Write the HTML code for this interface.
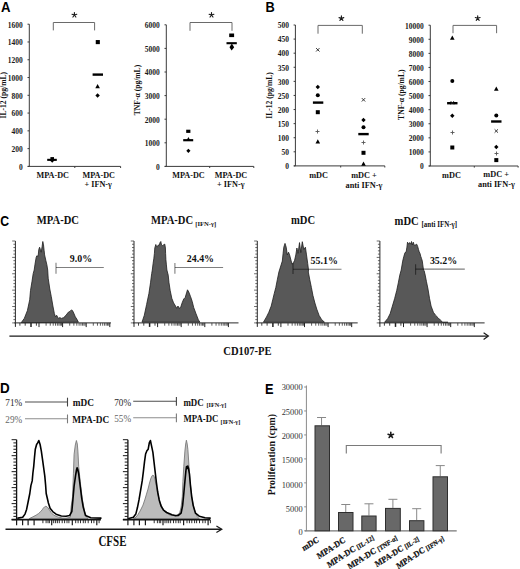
<!DOCTYPE html>
<html><head><meta charset="utf-8"><style>
html,body{margin:0;padding:0;background:#fff;width:520px;height:569px;overflow:hidden}
svg{display:block}
</style></head><body>
<svg width="520" height="569" viewBox="0 0 520 569">
<rect width="520" height="569" fill="#fff"/>
<text x="0" y="0" font-size="13.2" text-anchor="start" font-weight="bold" font-family='"Liberation Sans", sans-serif' fill="#000" transform="translate(1.0,11.8) scale(1,1.1)">A</text>
<line x1="29.3" y1="24.2" x2="29.3" y2="166.4" stroke="#3a3a3a" stroke-width="1" />
<line x1="27.8" y1="166.4" x2="120.6" y2="166.4" stroke="#3a3a3a" stroke-width="1" />
<line x1="27.5" y1="24.2" x2="29.3" y2="24.2" stroke="#3a3a3a" stroke-width="1" />
<text x="0" y="0" font-size="7.5" text-anchor="end" font-weight="bold" font-family='"Liberation Serif", serif' fill="#1a1a1a" transform="translate(22.8,27.5) scale(1,1.08)" >1600</text>
<line x1="27.5" y1="41.975" x2="29.3" y2="41.975" stroke="#3a3a3a" stroke-width="1" />
<text x="0" y="0" font-size="7.5" text-anchor="end" font-weight="bold" font-family='"Liberation Serif", serif' fill="#1a1a1a" transform="translate(22.8,45.275) scale(1,1.08)" >1400</text>
<line x1="27.5" y1="59.75" x2="29.3" y2="59.75" stroke="#3a3a3a" stroke-width="1" />
<text x="0" y="0" font-size="7.5" text-anchor="end" font-weight="bold" font-family='"Liberation Serif", serif' fill="#1a1a1a" transform="translate(22.8,63.05) scale(1,1.08)" >1200</text>
<line x1="27.5" y1="77.525" x2="29.3" y2="77.525" stroke="#3a3a3a" stroke-width="1" />
<text x="0" y="0" font-size="7.5" text-anchor="end" font-weight="bold" font-family='"Liberation Serif", serif' fill="#1a1a1a" transform="translate(22.8,80.825) scale(1,1.08)" >1000</text>
<line x1="27.5" y1="95.30000000000001" x2="29.3" y2="95.30000000000001" stroke="#3a3a3a" stroke-width="1" />
<text x="0" y="0" font-size="7.5" text-anchor="end" font-weight="bold" font-family='"Liberation Serif", serif' fill="#1a1a1a" transform="translate(22.8,98.60000000000001) scale(1,1.08)" >800</text>
<line x1="27.5" y1="113.07500000000002" x2="29.3" y2="113.07500000000002" stroke="#3a3a3a" stroke-width="1" />
<text x="0" y="0" font-size="7.5" text-anchor="end" font-weight="bold" font-family='"Liberation Serif", serif' fill="#1a1a1a" transform="translate(22.8,116.37500000000001) scale(1,1.08)" >600</text>
<line x1="27.5" y1="130.85" x2="29.3" y2="130.85" stroke="#3a3a3a" stroke-width="1" />
<text x="0" y="0" font-size="7.5" text-anchor="end" font-weight="bold" font-family='"Liberation Serif", serif' fill="#1a1a1a" transform="translate(22.8,134.15) scale(1,1.08)" >400</text>
<line x1="27.5" y1="148.625" x2="29.3" y2="148.625" stroke="#3a3a3a" stroke-width="1" />
<text x="0" y="0" font-size="7.5" text-anchor="end" font-weight="bold" font-family='"Liberation Serif", serif' fill="#1a1a1a" transform="translate(22.8,151.925) scale(1,1.08)" >200</text>
<line x1="27.5" y1="166.4" x2="29.3" y2="166.4" stroke="#3a3a3a" stroke-width="1" />
<text x="0" y="0" font-size="7.5" text-anchor="end" font-weight="bold" font-family='"Liberation Serif", serif' fill="#1a1a1a" transform="translate(22.8,169.70000000000002) scale(1,1.08)" >0</text>
<line x1="74.8" y1="166.4" x2="74.8" y2="168.0" stroke="#3a3a3a" stroke-width="1" />
<line x1="120.6" y1="166.4" x2="120.6" y2="168.0" stroke="#3a3a3a" stroke-width="1" />
<text x="0" y="0" font-size="7.6" text-anchor="middle" font-weight="bold" font-family='"Liberation Serif", serif' fill="#111" transform="translate(6.2,95.2) rotate(-90)">IL-12 (pg/mL)</text>
<text x="0" y="0" font-size="8.2" text-anchor="middle" font-weight="bold" font-family='"Liberation Serif", serif' fill="#111" transform="translate(52.7,177.5) scale(1,1.08)" >MPA-DC</text>
<text x="0" y="0" font-size="8.2" text-anchor="middle" font-weight="bold" font-family='"Liberation Serif", serif' fill="#111" transform="translate(98.7,177.5) scale(1,1.08)" >MPA-DC</text>
<text x="0" y="0" font-size="8.2" text-anchor="middle" font-weight="bold" font-family='"Liberation Serif", serif' fill="#111" transform="translate(98.2,187.2) scale(1,1.08)" >+ IFN-γ</text>
<path d="M53.3,30.4 L53.3,22.5 L94.6,22.5 L94.6,30.4" fill="none" stroke="#6a6a6a" stroke-width="1" />
<path d="M74.40,15.00 L74.40,12.50 M74.40,15.00 L76.78,14.23 M74.40,15.00 L75.87,17.02 M74.40,15.00 L72.93,17.02 M74.40,15.00 L72.02,14.23 " fill="none" stroke="#1a1a1a" stroke-width="1.15" stroke-linecap="round"/>
<rect x="95.75" y="40.05" width="4.1" height="4.1" fill="#000"/>
<line x1="92.6" y1="74.6" x2="103.0" y2="74.6" stroke="#000" stroke-width="2.4" />
<path d="M97.6,84.0 L99.89999999999999,88.255 L95.3,88.255 Z" fill="#000"/>
<path d="M97.6,93.3 L99.8,95.5 L97.6,97.7 L95.39999999999999,95.5 Z" fill="#000"/>
<rect x="47.2" y="158.8" width="9.6" height="2.1" fill="#000"/>
<rect x="50.40" y="157.10" width="3.6" height="3.6" fill="#000"/>
<path d="M52.2,157.9 L54.6,160.3 L52.2,162.70000000000002 L49.800000000000004,160.3 Z" fill="#000"/>
<line x1="166.3" y1="24.8" x2="166.3" y2="166.4" stroke="#3a3a3a" stroke-width="1" />
<line x1="164.8" y1="166.4" x2="253.8" y2="166.4" stroke="#3a3a3a" stroke-width="1" />
<line x1="164.5" y1="24.8" x2="166.3" y2="24.8" stroke="#3a3a3a" stroke-width="1" />
<text x="0" y="0" font-size="7.5" text-anchor="end" font-weight="bold" font-family='"Liberation Serif", serif' fill="#1a1a1a" transform="translate(159.8,28.1) scale(1,1.08)" >6000</text>
<line x1="164.5" y1="48.4" x2="166.3" y2="48.4" stroke="#3a3a3a" stroke-width="1" />
<text x="0" y="0" font-size="7.5" text-anchor="end" font-weight="bold" font-family='"Liberation Serif", serif' fill="#1a1a1a" transform="translate(159.8,51.699999999999996) scale(1,1.08)" >5000</text>
<line x1="164.5" y1="72.0" x2="166.3" y2="72.0" stroke="#3a3a3a" stroke-width="1" />
<text x="0" y="0" font-size="7.5" text-anchor="end" font-weight="bold" font-family='"Liberation Serif", serif' fill="#1a1a1a" transform="translate(159.8,75.3) scale(1,1.08)" >4000</text>
<line x1="164.5" y1="95.6" x2="166.3" y2="95.6" stroke="#3a3a3a" stroke-width="1" />
<text x="0" y="0" font-size="7.5" text-anchor="end" font-weight="bold" font-family='"Liberation Serif", serif' fill="#1a1a1a" transform="translate(159.8,98.89999999999999) scale(1,1.08)" >3000</text>
<line x1="164.5" y1="119.19999999999999" x2="166.3" y2="119.19999999999999" stroke="#3a3a3a" stroke-width="1" />
<text x="0" y="0" font-size="7.5" text-anchor="end" font-weight="bold" font-family='"Liberation Serif", serif' fill="#1a1a1a" transform="translate(159.8,122.49999999999999) scale(1,1.08)" >2000</text>
<line x1="164.5" y1="142.79999999999998" x2="166.3" y2="142.79999999999998" stroke="#3a3a3a" stroke-width="1" />
<text x="0" y="0" font-size="7.5" text-anchor="end" font-weight="bold" font-family='"Liberation Serif", serif' fill="#1a1a1a" transform="translate(159.8,146.1) scale(1,1.08)" >1000</text>
<line x1="164.5" y1="166.4" x2="166.3" y2="166.4" stroke="#3a3a3a" stroke-width="1" />
<text x="0" y="0" font-size="7.5" text-anchor="end" font-weight="bold" font-family='"Liberation Serif", serif' fill="#1a1a1a" transform="translate(159.8,169.70000000000002) scale(1,1.08)" >0</text>
<line x1="209.7" y1="166.4" x2="209.7" y2="168.0" stroke="#3a3a3a" stroke-width="1" />
<line x1="253.8" y1="166.4" x2="253.8" y2="168.0" stroke="#3a3a3a" stroke-width="1" />
<text x="0" y="0" font-size="7.6" text-anchor="middle" font-weight="bold" font-family='"Liberation Serif", serif' fill="#111" transform="translate(139.6,90) rotate(-90)">TNF-α (pg/mL)</text>
<text x="0" y="0" font-size="8.2" text-anchor="middle" font-weight="bold" font-family='"Liberation Serif", serif' fill="#111" transform="translate(188.5,177.5) scale(1,1.08)" >MPA-DC</text>
<text x="0" y="0" font-size="8.2" text-anchor="middle" font-weight="bold" font-family='"Liberation Serif", serif' fill="#111" transform="translate(231,177.5) scale(1,1.08)" >MPA-DC</text>
<text x="0" y="0" font-size="8.2" text-anchor="middle" font-weight="bold" font-family='"Liberation Serif", serif' fill="#111" transform="translate(230.8,187.2) scale(1,1.08)" >+ IFN-γ</text>
<path d="M190,30.8 L190,22.5 L232,22.5 L232,30.8" fill="none" stroke="#6a6a6a" stroke-width="1" />
<path d="M211.50,15.00 L211.50,12.50 M211.50,15.00 L213.88,14.23 M211.50,15.00 L212.97,17.02 M211.50,15.00 L210.03,17.02 M211.50,15.00 L209.12,14.23 " fill="none" stroke="#1a1a1a" stroke-width="1.15" stroke-linecap="round"/>
<rect x="186.2" y="129.7" width="4.2" height="3.2" fill="#000"/>
<path d="M188.4,137.0 L190.3,140.51500000000001 L186.5,140.51500000000001 Z" fill="#000"/>
<line x1="183.2" y1="140.2" x2="193.2" y2="140.2" stroke="#000" stroke-width="2.2" />
<path d="M188.4,148.70000000000002 L190.5,150.8 L188.4,152.9 L186.3,150.8 Z" fill="#000"/>
<rect x="229.2" y="33.5" width="4.9" height="3.6" fill="#000"/>
<line x1="226.5" y1="43.2" x2="236.8" y2="43.2" stroke="#000" stroke-width="2.1" />
<path d="M231.8,43.4 L234.2,47.2 L231.6,50.6 L229.5,47.2 Z" fill="#000"/>
<text x="0" y="0" font-size="12.8" text-anchor="start" font-weight="bold" font-family='"Liberation Sans", sans-serif' fill="#000" transform="translate(265.5,11.8) scale(1,1.13)">B</text>
<line x1="295.4" y1="25.0" x2="295.4" y2="165.9" stroke="#3a3a3a" stroke-width="1" />
<line x1="293.9" y1="165.9" x2="384.8" y2="165.9" stroke="#3a3a3a" stroke-width="1" />
<line x1="293.59999999999997" y1="25.0" x2="295.4" y2="25.0" stroke="#3a3a3a" stroke-width="1" />
<text x="0" y="0" font-size="7.5" text-anchor="end" font-weight="bold" font-family='"Liberation Serif", serif' fill="#1a1a1a" transform="translate(288.9,28.3) scale(1,1.08)" >500</text>
<line x1="293.59999999999997" y1="39.09" x2="295.4" y2="39.09" stroke="#3a3a3a" stroke-width="1" />
<text x="0" y="0" font-size="7.5" text-anchor="end" font-weight="bold" font-family='"Liberation Serif", serif' fill="#1a1a1a" transform="translate(288.9,42.39) scale(1,1.08)" >450</text>
<line x1="293.59999999999997" y1="53.18" x2="295.4" y2="53.18" stroke="#3a3a3a" stroke-width="1" />
<text x="0" y="0" font-size="7.5" text-anchor="end" font-weight="bold" font-family='"Liberation Serif", serif' fill="#1a1a1a" transform="translate(288.9,56.48) scale(1,1.08)" >400</text>
<line x1="293.59999999999997" y1="67.27" x2="295.4" y2="67.27" stroke="#3a3a3a" stroke-width="1" />
<text x="0" y="0" font-size="7.5" text-anchor="end" font-weight="bold" font-family='"Liberation Serif", serif' fill="#1a1a1a" transform="translate(288.9,70.57) scale(1,1.08)" >350</text>
<line x1="293.59999999999997" y1="81.36" x2="295.4" y2="81.36" stroke="#3a3a3a" stroke-width="1" />
<text x="0" y="0" font-size="7.5" text-anchor="end" font-weight="bold" font-family='"Liberation Serif", serif' fill="#1a1a1a" transform="translate(288.9,84.66) scale(1,1.08)" >300</text>
<line x1="293.59999999999997" y1="95.45" x2="295.4" y2="95.45" stroke="#3a3a3a" stroke-width="1" />
<text x="0" y="0" font-size="7.5" text-anchor="end" font-weight="bold" font-family='"Liberation Serif", serif' fill="#1a1a1a" transform="translate(288.9,98.75) scale(1,1.08)" >250</text>
<line x1="293.59999999999997" y1="109.53999999999999" x2="295.4" y2="109.53999999999999" stroke="#3a3a3a" stroke-width="1" />
<text x="0" y="0" font-size="7.5" text-anchor="end" font-weight="bold" font-family='"Liberation Serif", serif' fill="#1a1a1a" transform="translate(288.9,112.83999999999999) scale(1,1.08)" >200</text>
<line x1="293.59999999999997" y1="123.63" x2="295.4" y2="123.63" stroke="#3a3a3a" stroke-width="1" />
<text x="0" y="0" font-size="7.5" text-anchor="end" font-weight="bold" font-family='"Liberation Serif", serif' fill="#1a1a1a" transform="translate(288.9,126.92999999999999) scale(1,1.08)" >150</text>
<line x1="293.59999999999997" y1="137.72" x2="295.4" y2="137.72" stroke="#3a3a3a" stroke-width="1" />
<text x="0" y="0" font-size="7.5" text-anchor="end" font-weight="bold" font-family='"Liberation Serif", serif' fill="#1a1a1a" transform="translate(288.9,141.02) scale(1,1.08)" >100</text>
<line x1="293.59999999999997" y1="151.81" x2="295.4" y2="151.81" stroke="#3a3a3a" stroke-width="1" />
<text x="0" y="0" font-size="7.5" text-anchor="end" font-weight="bold" font-family='"Liberation Serif", serif' fill="#1a1a1a" transform="translate(288.9,155.11) scale(1,1.08)" >50</text>
<line x1="293.59999999999997" y1="165.9" x2="295.4" y2="165.9" stroke="#3a3a3a" stroke-width="1" />
<text x="0" y="0" font-size="7.5" text-anchor="end" font-weight="bold" font-family='"Liberation Serif", serif' fill="#1a1a1a" transform="translate(288.9,169.20000000000002) scale(1,1.08)" >0</text>
<line x1="340.7" y1="165.9" x2="340.7" y2="167.5" stroke="#3a3a3a" stroke-width="1" />
<line x1="384.8" y1="165.9" x2="384.8" y2="167.5" stroke="#3a3a3a" stroke-width="1" />
<text x="0" y="0" font-size="7.6" text-anchor="middle" font-weight="bold" font-family='"Liberation Serif", serif' fill="#111" transform="translate(272,95.5) rotate(-90)">IL-12 (pg/mL)</text>
<text x="0" y="0" font-size="8.3" text-anchor="middle" font-weight="bold" font-family='"Liberation Serif", serif' fill="#111" transform="translate(318.6,177.6) scale(1,1.08)" >mDC</text>
<text x="0" y="0" font-size="8.3" text-anchor="middle" font-weight="bold" font-family='"Liberation Serif", serif' fill="#111" transform="translate(364,177.6) scale(1,1.08)" >mDC +</text>
<text x="0" y="0" font-size="8.3" text-anchor="middle" font-weight="bold" font-family='"Liberation Serif", serif' fill="#111" transform="translate(364,188) scale(1,1.08)" >anti IFN-γ</text>
<path d="M318,33.7 L318,25.4 L362.3,25.4 L362.3,33.7" fill="none" stroke="#6a6a6a" stroke-width="1" />
<path d="M341.40,18.40 L341.40,15.90 M341.40,18.40 L343.78,17.63 M341.40,18.40 L342.87,20.42 M341.40,18.40 L339.93,20.42 M341.40,18.40 L339.02,17.63 " fill="none" stroke="#1a1a1a" stroke-width="1.15" stroke-linecap="round"/>
<path d="M316.1,48.099999999999994 L319.5,51.5 M319.5,48.099999999999994 L316.1,51.5" stroke="#222" stroke-width="0.9"/>
<path d="M317.8,84.8 L320.0,87 L317.8,89.2 L315.6,87 Z" fill="#000"/>
<circle cx="317.8" cy="95.3" r="2.0" fill="#000"/>
<line x1="312.90000000000003" y1="102.6" x2="323.3" y2="102.6" stroke="#000" stroke-width="2.4" />
<rect x="315.80" y="110.20" width="4.0" height="4.0" fill="#000"/>
<path d="M315.5,131.5 L319.5,131.5 M317.5,129.5 L317.5,133.5" stroke="#555" stroke-width="0.9"/>
<path d="M317.8,139.29999999999998 L320.1,143.555 L315.5,143.555 Z" fill="#000"/>
<path d="M361.8,98.1 L365.2,101.5 M365.2,98.1 L361.8,101.5" stroke="#222" stroke-width="0.9"/>
<path d="M363.5,117.8 L365.7,120 L363.5,122.2 L361.3,120 Z" fill="#000"/>
<circle cx="363.5" cy="127.3" r="2.0" fill="#000"/>
<line x1="358.3" y1="134.1" x2="368.7" y2="134.1" stroke="#000" stroke-width="2.4" />
<path d="M361.5,142.5 L365.5,142.5 M363.5,140.5 L363.5,144.5" stroke="#555" stroke-width="0.9"/>
<rect x="361.50" y="150.80" width="4.0" height="4.0" fill="#000"/>
<path d="M363.5,161.6 L365.8,165.85500000000002 L361.2,165.85500000000002 Z" fill="#000"/>
<line x1="430.3" y1="25.2" x2="430.3" y2="166.0" stroke="#3a3a3a" stroke-width="1" />
<line x1="428.8" y1="166.0" x2="518.1" y2="166.0" stroke="#3a3a3a" stroke-width="1" />
<line x1="428.5" y1="25.2" x2="430.3" y2="25.2" stroke="#3a3a3a" stroke-width="1" />
<text x="0" y="0" font-size="7.5" text-anchor="end" font-weight="bold" font-family='"Liberation Serif", serif' fill="#1a1a1a" transform="translate(423.8,28.5) scale(1,1.08)" >10000</text>
<line x1="428.5" y1="39.28" x2="430.3" y2="39.28" stroke="#3a3a3a" stroke-width="1" />
<text x="0" y="0" font-size="7.5" text-anchor="end" font-weight="bold" font-family='"Liberation Serif", serif' fill="#1a1a1a" transform="translate(423.8,42.58) scale(1,1.08)" >9000</text>
<line x1="428.5" y1="53.36" x2="430.3" y2="53.36" stroke="#3a3a3a" stroke-width="1" />
<text x="0" y="0" font-size="7.5" text-anchor="end" font-weight="bold" font-family='"Liberation Serif", serif' fill="#1a1a1a" transform="translate(423.8,56.66) scale(1,1.08)" >8000</text>
<line x1="428.5" y1="67.44000000000001" x2="430.3" y2="67.44000000000001" stroke="#3a3a3a" stroke-width="1" />
<text x="0" y="0" font-size="7.5" text-anchor="end" font-weight="bold" font-family='"Liberation Serif", serif' fill="#1a1a1a" transform="translate(423.8,70.74000000000001) scale(1,1.08)" >7000</text>
<line x1="428.5" y1="81.52000000000001" x2="430.3" y2="81.52000000000001" stroke="#3a3a3a" stroke-width="1" />
<text x="0" y="0" font-size="7.5" text-anchor="end" font-weight="bold" font-family='"Liberation Serif", serif' fill="#1a1a1a" transform="translate(423.8,84.82000000000001) scale(1,1.08)" >6000</text>
<line x1="428.5" y1="95.60000000000001" x2="430.3" y2="95.60000000000001" stroke="#3a3a3a" stroke-width="1" />
<text x="0" y="0" font-size="7.5" text-anchor="end" font-weight="bold" font-family='"Liberation Serif", serif' fill="#1a1a1a" transform="translate(423.8,98.9) scale(1,1.08)" >5000</text>
<line x1="428.5" y1="109.68000000000002" x2="430.3" y2="109.68000000000002" stroke="#3a3a3a" stroke-width="1" />
<text x="0" y="0" font-size="7.5" text-anchor="end" font-weight="bold" font-family='"Liberation Serif", serif' fill="#1a1a1a" transform="translate(423.8,112.98000000000002) scale(1,1.08)" >4000</text>
<line x1="428.5" y1="123.76000000000002" x2="430.3" y2="123.76000000000002" stroke="#3a3a3a" stroke-width="1" />
<text x="0" y="0" font-size="7.5" text-anchor="end" font-weight="bold" font-family='"Liberation Serif", serif' fill="#1a1a1a" transform="translate(423.8,127.06000000000002) scale(1,1.08)" >3000</text>
<line x1="428.5" y1="137.84" x2="430.3" y2="137.84" stroke="#3a3a3a" stroke-width="1" />
<text x="0" y="0" font-size="7.5" text-anchor="end" font-weight="bold" font-family='"Liberation Serif", serif' fill="#1a1a1a" transform="translate(423.8,141.14000000000001) scale(1,1.08)" >2000</text>
<line x1="428.5" y1="151.92000000000002" x2="430.3" y2="151.92000000000002" stroke="#3a3a3a" stroke-width="1" />
<text x="0" y="0" font-size="7.5" text-anchor="end" font-weight="bold" font-family='"Liberation Serif", serif' fill="#1a1a1a" transform="translate(423.8,155.22000000000003) scale(1,1.08)" >1000</text>
<line x1="428.5" y1="166.0" x2="430.3" y2="166.0" stroke="#3a3a3a" stroke-width="1" />
<text x="0" y="0" font-size="7.5" text-anchor="end" font-weight="bold" font-family='"Liberation Serif", serif' fill="#1a1a1a" transform="translate(423.8,169.3) scale(1,1.08)" >0</text>
<line x1="474.3" y1="166.0" x2="474.3" y2="167.6" stroke="#3a3a3a" stroke-width="1" />
<line x1="518.1" y1="166.0" x2="518.1" y2="167.6" stroke="#3a3a3a" stroke-width="1" />
<text x="0" y="0" font-size="7.6" text-anchor="middle" font-weight="bold" font-family='"Liberation Serif", serif' fill="#111" transform="translate(404.4,94.7) rotate(-90)">TNF-α (pg/mL)</text>
<text x="0" y="0" font-size="8.3" text-anchor="middle" font-weight="bold" font-family='"Liberation Serif", serif' fill="#111" transform="translate(451.5,178) scale(1,1.08)" >mDC</text>
<text x="0" y="0" font-size="8.3" text-anchor="middle" font-weight="bold" font-family='"Liberation Serif", serif' fill="#111" transform="translate(496.2,177.2) scale(1,1.08)" >mDC +</text>
<text x="0" y="0" font-size="8.3" text-anchor="middle" font-weight="bold" font-family='"Liberation Serif", serif' fill="#111" transform="translate(496.4,186.6) scale(1,1.08)" >anti IFN-γ</text>
<path d="M453,33.2 L453,25.4 L496.6,25.4 L496.6,33.2" fill="none" stroke="#6a6a6a" stroke-width="1" />
<path d="M477.70,18.30 L477.70,15.80 M477.70,18.30 L480.08,17.53 M477.70,18.30 L479.17,20.32 M477.70,18.30 L476.23,20.32 M477.70,18.30 L475.32,17.53 " fill="none" stroke="#1a1a1a" stroke-width="1.15" stroke-linecap="round"/>
<path d="M452.3,35.5 L454.6,39.754999999999995 L450.0,39.754999999999995 Z" fill="#000"/>
<circle cx="452.3" cy="81" r="2.0" fill="#000"/>
<line x1="447.1" y1="103.2" x2="457.5" y2="103.2" stroke="#000" stroke-width="2.4" />
<path d="M450.6,101.1 L454.0,104.5 M454.0,101.1 L450.6,104.5" stroke="#222" stroke-width="0.9"/>
<path d="M452.3,113.6 L454.5,115.8 L452.3,118.0 L450.1,115.8 Z" fill="#000"/>
<path d="M450.5,132.5 L454.5,132.5 M452.5,130.5 L452.5,134.5" stroke="#555" stroke-width="0.9"/>
<rect x="450.30" y="145.50" width="4.0" height="4.0" fill="#000"/>
<path d="M496.3,86.60000000000001 L498.6,90.855 L494.0,90.855 Z" fill="#000"/>
<circle cx="496.3" cy="115.4" r="2.0" fill="#000"/>
<line x1="491.1" y1="121.5" x2="501.5" y2="121.5" stroke="#000" stroke-width="2.4" />
<path d="M494.6,129.3 L498.0,132.7 M498.0,129.3 L494.6,132.7" stroke="#222" stroke-width="0.9"/>
<path d="M496.3,144.8 L498.5,147 L496.3,149.2 L494.1,147 Z" fill="#000"/>
<path d="M494.5,153.5 L498.5,153.5 M496.5,151.5 L496.5,155.5" stroke="#555" stroke-width="0.9"/>
<rect x="494.30" y="158.10" width="4.0" height="4.0" fill="#000"/>
<text x="0" y="0" font-size="12.6" text-anchor="start" font-weight="bold" font-family='"Liberation Sans", sans-serif' fill="#000" transform="translate(0.3,226.2) scale(0.97,1.1)">C</text>
<path d="M21.2,322.7 L24.3,318.4 L27.4,310.6 L29.7,299.8 L30.5,290.5 L32.0,281.3 L33.2,273.5 L34.2,270.0 L35.0,264.2 L36.2,257.2 L36.9,255.7 L38.1,256.5 L38.8,249.5 L39.6,247.2 L40.4,249.5 L41.2,252.2 L42.1,246.5 L42.8,241.5 L43.5,244.9 L44.1,250.3 L44.6,254.9 L45.8,260.3 L46.9,264.9 L47.7,270.0 L48.2,278.2 L49.8,289.0 L51.3,296.7 L52.9,306.0 L54.4,313.7 L55.5,316.8 L56.7,315.3 L58.3,318.4 L59.8,317.6 L61.4,318.4 L63.7,317.6 L66.0,315.3 L68.3,312.2 L69.9,311.4 L71.4,309.9 L72.5,310.6 L73.7,313.0 L75.3,316.8 L76.8,319.1 L78.4,322.2 Z" fill="#585858" stroke="#1e1e1e" stroke-width="0.8" stroke-linejoin="round"/>
<line x1="15.4" y1="241.0" x2="15.4" y2="322.9" stroke="#2a2a2a" stroke-width="1" />
<line x1="12.2" y1="322.9" x2="15.4" y2="322.9" stroke="#3a3a3a" stroke-width="0.75" />
<line x1="13.4" y1="319.62399999999997" x2="15.4" y2="319.62399999999997" stroke="#3a3a3a" stroke-width="0.75" />
<line x1="13.4" y1="316.34799999999996" x2="15.4" y2="316.34799999999996" stroke="#3a3a3a" stroke-width="0.75" />
<line x1="13.4" y1="313.072" x2="15.4" y2="313.072" stroke="#3a3a3a" stroke-width="0.75" />
<line x1="13.4" y1="309.796" x2="15.4" y2="309.796" stroke="#3a3a3a" stroke-width="0.75" />
<line x1="12.2" y1="306.52" x2="15.4" y2="306.52" stroke="#3a3a3a" stroke-width="0.75" />
<line x1="13.4" y1="303.24399999999997" x2="15.4" y2="303.24399999999997" stroke="#3a3a3a" stroke-width="0.75" />
<line x1="13.4" y1="299.96799999999996" x2="15.4" y2="299.96799999999996" stroke="#3a3a3a" stroke-width="0.75" />
<line x1="13.4" y1="296.692" x2="15.4" y2="296.692" stroke="#3a3a3a" stroke-width="0.75" />
<line x1="13.4" y1="293.416" x2="15.4" y2="293.416" stroke="#3a3a3a" stroke-width="0.75" />
<line x1="12.2" y1="290.14" x2="15.4" y2="290.14" stroke="#3a3a3a" stroke-width="0.75" />
<line x1="13.4" y1="286.864" x2="15.4" y2="286.864" stroke="#3a3a3a" stroke-width="0.75" />
<line x1="13.4" y1="283.58799999999997" x2="15.4" y2="283.58799999999997" stroke="#3a3a3a" stroke-width="0.75" />
<line x1="13.4" y1="280.312" x2="15.4" y2="280.312" stroke="#3a3a3a" stroke-width="0.75" />
<line x1="13.4" y1="277.036" x2="15.4" y2="277.036" stroke="#3a3a3a" stroke-width="0.75" />
<line x1="12.2" y1="273.76" x2="15.4" y2="273.76" stroke="#3a3a3a" stroke-width="0.75" />
<line x1="13.4" y1="270.484" x2="15.4" y2="270.484" stroke="#3a3a3a" stroke-width="0.75" />
<line x1="13.4" y1="267.20799999999997" x2="15.4" y2="267.20799999999997" stroke="#3a3a3a" stroke-width="0.75" />
<line x1="13.4" y1="263.932" x2="15.4" y2="263.932" stroke="#3a3a3a" stroke-width="0.75" />
<line x1="13.4" y1="260.656" x2="15.4" y2="260.656" stroke="#3a3a3a" stroke-width="0.75" />
<line x1="12.2" y1="257.38" x2="15.4" y2="257.38" stroke="#3a3a3a" stroke-width="0.75" />
<line x1="13.4" y1="254.10399999999998" x2="15.4" y2="254.10399999999998" stroke="#3a3a3a" stroke-width="0.75" />
<line x1="13.4" y1="250.828" x2="15.4" y2="250.828" stroke="#3a3a3a" stroke-width="0.75" />
<line x1="13.4" y1="247.55200000000002" x2="15.4" y2="247.55200000000002" stroke="#3a3a3a" stroke-width="0.75" />
<line x1="13.4" y1="244.276" x2="15.4" y2="244.276" stroke="#3a3a3a" stroke-width="0.75" />
<line x1="12.2" y1="241.0" x2="15.4" y2="241.0" stroke="#3a3a3a" stroke-width="0.75" />
<line x1="14.4" y1="322.9" x2="111.0" y2="322.9" stroke="#2a2a2a" stroke-width="1" />
<line x1="19.9" y1="322.9" x2="19.9" y2="325.7" stroke="#222" stroke-width="0.85" />
<line x1="25.200000000000003" y1="322.9" x2="25.200000000000003" y2="325.7" stroke="#222" stroke-width="0.85" />
<line x1="31.0" y1="322.9" x2="31.0" y2="326.9" stroke="#222" stroke-width="1.5" />
<line x1="36.4" y1="322.9" x2="36.4" y2="325.7" stroke="#222" stroke-width="0.85" />
<line x1="15.4" y1="322.9" x2="15.4" y2="326.9" stroke="#222" stroke-width="1.0" />
<line x1="39.0" y1="322.9" x2="39.0" y2="327.09999999999997" stroke="#222" stroke-width="1.0" />
<line x1="46.104307897669955" y1="322.9" x2="46.104307897669955" y2="325.7" stroke="#333" stroke-width="0.8" />
<line x1="50.26006161138403" y1="322.9" x2="50.26006161138403" y2="325.7" stroke="#333" stroke-width="0.8" />
<line x1="53.20861579533991" y1="322.9" x2="53.20861579533991" y2="325.7" stroke="#333" stroke-width="0.8" />
<line x1="55.49569210233005" y1="322.9" x2="55.49569210233005" y2="325.7" stroke="#333" stroke-width="0.8" />
<line x1="57.36436950905399" y1="322.9" x2="57.36436950905399" y2="325.7" stroke="#333" stroke-width="0.8" />
<line x1="58.94431374433646" y1="322.9" x2="58.94431374433646" y2="325.7" stroke="#333" stroke-width="0.8" />
<line x1="60.312923693009864" y1="322.9" x2="60.312923693009864" y2="325.7" stroke="#333" stroke-width="0.8" />
<line x1="61.52012322276806" y1="322.9" x2="61.52012322276806" y2="325.7" stroke="#333" stroke-width="0.8" />
<line x1="62.6" y1="322.9" x2="62.6" y2="327.09999999999997" stroke="#222" stroke-width="1.0" />
<line x1="69.70430789766996" y1="322.9" x2="69.70430789766996" y2="325.7" stroke="#333" stroke-width="0.8" />
<line x1="73.86006161138404" y1="322.9" x2="73.86006161138404" y2="325.7" stroke="#333" stroke-width="0.8" />
<line x1="76.80861579533992" y1="322.9" x2="76.80861579533992" y2="325.7" stroke="#333" stroke-width="0.8" />
<line x1="79.09569210233005" y1="322.9" x2="79.09569210233005" y2="325.7" stroke="#333" stroke-width="0.8" />
<line x1="80.964369509054" y1="322.9" x2="80.964369509054" y2="325.7" stroke="#333" stroke-width="0.8" />
<line x1="82.54431374433646" y1="322.9" x2="82.54431374433646" y2="325.7" stroke="#333" stroke-width="0.8" />
<line x1="83.91292369300987" y1="322.9" x2="83.91292369300987" y2="325.7" stroke="#333" stroke-width="0.8" />
<line x1="85.12012322276807" y1="322.9" x2="85.12012322276807" y2="325.7" stroke="#333" stroke-width="0.8" />
<line x1="86.20000000000002" y1="322.9" x2="86.20000000000002" y2="327.09999999999997" stroke="#222" stroke-width="1.0" />
<line x1="93.30430789766997" y1="322.9" x2="93.30430789766997" y2="325.7" stroke="#333" stroke-width="0.8" />
<line x1="97.46006161138405" y1="322.9" x2="97.46006161138405" y2="325.7" stroke="#333" stroke-width="0.8" />
<line x1="100.40861579533993" y1="322.9" x2="100.40861579533993" y2="325.7" stroke="#333" stroke-width="0.8" />
<line x1="102.69569210233007" y1="322.9" x2="102.69569210233007" y2="325.7" stroke="#333" stroke-width="0.8" />
<line x1="104.564369509054" y1="322.9" x2="104.564369509054" y2="325.7" stroke="#333" stroke-width="0.8" />
<line x1="106.14431374433647" y1="322.9" x2="106.14431374433647" y2="325.7" stroke="#333" stroke-width="0.8" />
<line x1="107.51292369300988" y1="322.9" x2="107.51292369300988" y2="325.7" stroke="#333" stroke-width="0.8" />
<line x1="108.72012322276808" y1="322.9" x2="108.72012322276808" y2="325.7" stroke="#333" stroke-width="0.8" />
<line x1="109.80000000000001" y1="322.9" x2="109.80000000000001" y2="327.09999999999997" stroke="#222" stroke-width="1.0" />
<path d="M142.0,322.2 L144.3,315.3 L146.6,304.5 L148.9,293.6 L150.5,282.8 L151.7,273.5 L152.3,270.0 L153.1,263.4 L153.8,258.8 L154.4,253.4 L154.8,248.0 L155.8,244.5 L156.5,246.5 L157.5,246.8 L158.2,244.9 L159.2,245.7 L160.0,242.6 L160.8,241.5 L161.5,244.9 L162.7,245.7 L163.8,244.5 L164.8,244.2 L165.4,248.0 L165.6,253.4 L165.9,259.5 L166.4,264.9 L166.9,270.0 L168.2,275.1 L169.0,282.8 L170.2,290.5 L171.8,298.3 L173.6,302.9 L175.5,306.0 L176.7,308.3 L178.0,306.0 L179.0,308.3 L180.6,307.5 L182.1,302.9 L183.7,299.0 L185.2,297.5 L186.8,292.1 L187.5,289.8 L188.8,292.1 L190.6,296.7 L192.2,301.4 L193.7,307.5 L196.0,313.7 L198.4,319.9 L199.9,322.2 Z" fill="#585858" stroke="#1e1e1e" stroke-width="0.8" stroke-linejoin="round"/>
<line x1="134.0" y1="241.0" x2="134.0" y2="322.9" stroke="#2a2a2a" stroke-width="1" />
<line x1="130.8" y1="322.9" x2="134.0" y2="322.9" stroke="#3a3a3a" stroke-width="0.75" />
<line x1="132.0" y1="319.62399999999997" x2="134.0" y2="319.62399999999997" stroke="#3a3a3a" stroke-width="0.75" />
<line x1="132.0" y1="316.34799999999996" x2="134.0" y2="316.34799999999996" stroke="#3a3a3a" stroke-width="0.75" />
<line x1="132.0" y1="313.072" x2="134.0" y2="313.072" stroke="#3a3a3a" stroke-width="0.75" />
<line x1="132.0" y1="309.796" x2="134.0" y2="309.796" stroke="#3a3a3a" stroke-width="0.75" />
<line x1="130.8" y1="306.52" x2="134.0" y2="306.52" stroke="#3a3a3a" stroke-width="0.75" />
<line x1="132.0" y1="303.24399999999997" x2="134.0" y2="303.24399999999997" stroke="#3a3a3a" stroke-width="0.75" />
<line x1="132.0" y1="299.96799999999996" x2="134.0" y2="299.96799999999996" stroke="#3a3a3a" stroke-width="0.75" />
<line x1="132.0" y1="296.692" x2="134.0" y2="296.692" stroke="#3a3a3a" stroke-width="0.75" />
<line x1="132.0" y1="293.416" x2="134.0" y2="293.416" stroke="#3a3a3a" stroke-width="0.75" />
<line x1="130.8" y1="290.14" x2="134.0" y2="290.14" stroke="#3a3a3a" stroke-width="0.75" />
<line x1="132.0" y1="286.864" x2="134.0" y2="286.864" stroke="#3a3a3a" stroke-width="0.75" />
<line x1="132.0" y1="283.58799999999997" x2="134.0" y2="283.58799999999997" stroke="#3a3a3a" stroke-width="0.75" />
<line x1="132.0" y1="280.312" x2="134.0" y2="280.312" stroke="#3a3a3a" stroke-width="0.75" />
<line x1="132.0" y1="277.036" x2="134.0" y2="277.036" stroke="#3a3a3a" stroke-width="0.75" />
<line x1="130.8" y1="273.76" x2="134.0" y2="273.76" stroke="#3a3a3a" stroke-width="0.75" />
<line x1="132.0" y1="270.484" x2="134.0" y2="270.484" stroke="#3a3a3a" stroke-width="0.75" />
<line x1="132.0" y1="267.20799999999997" x2="134.0" y2="267.20799999999997" stroke="#3a3a3a" stroke-width="0.75" />
<line x1="132.0" y1="263.932" x2="134.0" y2="263.932" stroke="#3a3a3a" stroke-width="0.75" />
<line x1="132.0" y1="260.656" x2="134.0" y2="260.656" stroke="#3a3a3a" stroke-width="0.75" />
<line x1="130.8" y1="257.38" x2="134.0" y2="257.38" stroke="#3a3a3a" stroke-width="0.75" />
<line x1="132.0" y1="254.10399999999998" x2="134.0" y2="254.10399999999998" stroke="#3a3a3a" stroke-width="0.75" />
<line x1="132.0" y1="250.828" x2="134.0" y2="250.828" stroke="#3a3a3a" stroke-width="0.75" />
<line x1="132.0" y1="247.55200000000002" x2="134.0" y2="247.55200000000002" stroke="#3a3a3a" stroke-width="0.75" />
<line x1="132.0" y1="244.276" x2="134.0" y2="244.276" stroke="#3a3a3a" stroke-width="0.75" />
<line x1="130.8" y1="241.0" x2="134.0" y2="241.0" stroke="#3a3a3a" stroke-width="0.75" />
<line x1="133.0" y1="322.9" x2="238.5" y2="322.9" stroke="#2a2a2a" stroke-width="1" />
<line x1="138.5" y1="322.9" x2="138.5" y2="325.7" stroke="#222" stroke-width="0.85" />
<line x1="143.8" y1="322.9" x2="143.8" y2="325.7" stroke="#222" stroke-width="0.85" />
<line x1="149.6" y1="322.9" x2="149.6" y2="326.9" stroke="#222" stroke-width="1.5" />
<line x1="155.0" y1="322.9" x2="155.0" y2="325.7" stroke="#222" stroke-width="0.85" />
<line x1="134.0" y1="322.9" x2="134.0" y2="326.9" stroke="#222" stroke-width="1.0" />
<line x1="157.6" y1="322.9" x2="157.6" y2="327.09999999999997" stroke="#222" stroke-width="1.0" />
<line x1="164.70430789766996" y1="322.9" x2="164.70430789766996" y2="325.7" stroke="#333" stroke-width="0.8" />
<line x1="168.86006161138403" y1="322.9" x2="168.86006161138403" y2="325.7" stroke="#333" stroke-width="0.8" />
<line x1="171.8086157953399" y1="322.9" x2="171.8086157953399" y2="325.7" stroke="#333" stroke-width="0.8" />
<line x1="174.09569210233005" y1="322.9" x2="174.09569210233005" y2="325.7" stroke="#333" stroke-width="0.8" />
<line x1="175.964369509054" y1="322.9" x2="175.964369509054" y2="325.7" stroke="#333" stroke-width="0.8" />
<line x1="177.54431374433645" y1="322.9" x2="177.54431374433645" y2="325.7" stroke="#333" stroke-width="0.8" />
<line x1="178.91292369300987" y1="322.9" x2="178.91292369300987" y2="325.7" stroke="#333" stroke-width="0.8" />
<line x1="180.12012322276806" y1="322.9" x2="180.12012322276806" y2="325.7" stroke="#333" stroke-width="0.8" />
<line x1="181.2" y1="322.9" x2="181.2" y2="327.09999999999997" stroke="#222" stroke-width="1.0" />
<line x1="188.30430789766996" y1="322.9" x2="188.30430789766996" y2="325.7" stroke="#333" stroke-width="0.8" />
<line x1="192.46006161138402" y1="322.9" x2="192.46006161138402" y2="325.7" stroke="#333" stroke-width="0.8" />
<line x1="195.4086157953399" y1="322.9" x2="195.4086157953399" y2="325.7" stroke="#333" stroke-width="0.8" />
<line x1="197.69569210233004" y1="322.9" x2="197.69569210233004" y2="325.7" stroke="#333" stroke-width="0.8" />
<line x1="199.564369509054" y1="322.9" x2="199.564369509054" y2="325.7" stroke="#333" stroke-width="0.8" />
<line x1="201.14431374433644" y1="322.9" x2="201.14431374433644" y2="325.7" stroke="#333" stroke-width="0.8" />
<line x1="202.51292369300987" y1="322.9" x2="202.51292369300987" y2="325.7" stroke="#333" stroke-width="0.8" />
<line x1="203.72012322276805" y1="322.9" x2="203.72012322276805" y2="325.7" stroke="#333" stroke-width="0.8" />
<line x1="204.8" y1="322.9" x2="204.8" y2="327.09999999999997" stroke="#222" stroke-width="1.0" />
<line x1="211.90430789766998" y1="322.9" x2="211.90430789766998" y2="325.7" stroke="#333" stroke-width="0.8" />
<line x1="216.06006161138404" y1="322.9" x2="216.06006161138404" y2="325.7" stroke="#333" stroke-width="0.8" />
<line x1="219.00861579533992" y1="322.9" x2="219.00861579533992" y2="325.7" stroke="#333" stroke-width="0.8" />
<line x1="221.29569210233007" y1="322.9" x2="221.29569210233007" y2="325.7" stroke="#333" stroke-width="0.8" />
<line x1="223.164369509054" y1="322.9" x2="223.164369509054" y2="325.7" stroke="#333" stroke-width="0.8" />
<line x1="224.74431374433647" y1="322.9" x2="224.74431374433647" y2="325.7" stroke="#333" stroke-width="0.8" />
<line x1="226.1129236930099" y1="322.9" x2="226.1129236930099" y2="325.7" stroke="#333" stroke-width="0.8" />
<line x1="227.32012322276807" y1="322.9" x2="227.32012322276807" y2="325.7" stroke="#333" stroke-width="0.8" />
<line x1="228.4" y1="322.9" x2="228.4" y2="327.09999999999997" stroke="#222" stroke-width="1.0" />
<path d="M263.4,322.3 L266.5,316.9 L268.8,312.3 L271.2,306.1 L272.7,299.9 L274.2,293.7 L275.8,287.5 L277.3,279.8 L278.9,272.0 L282.3,261.1 L283.1,253.4 L283.8,247.2 L285.0,243.4 L286.2,247.2 L287.3,254.9 L288.5,252.2 L289.6,254.9 L291.2,261.1 L292.3,264.2 L293.5,262.6 L294.6,260.3 L295.8,254.9 L296.9,248.0 L298.1,253.4 L299.5,242.6 L300.8,252.6 L302.3,241.7 L303.8,249.5 L305.4,247.2 L306.5,254.9 L307.7,263.4 L308.5,270.0 L308.3,272.0 L309.8,279.8 L311.4,287.5 L312.9,295.3 L314.9,303.0 L316.8,309.2 L319.1,315.4 L321.4,319.2 L324.5,322.3 Z" fill="#585858" stroke="#1e1e1e" stroke-width="0.8" stroke-linejoin="round"/>
<line x1="257.3" y1="241.0" x2="257.3" y2="322.9" stroke="#2a2a2a" stroke-width="1" />
<line x1="254.10000000000002" y1="322.9" x2="257.3" y2="322.9" stroke="#3a3a3a" stroke-width="0.75" />
<line x1="255.3" y1="319.62399999999997" x2="257.3" y2="319.62399999999997" stroke="#3a3a3a" stroke-width="0.75" />
<line x1="255.3" y1="316.34799999999996" x2="257.3" y2="316.34799999999996" stroke="#3a3a3a" stroke-width="0.75" />
<line x1="255.3" y1="313.072" x2="257.3" y2="313.072" stroke="#3a3a3a" stroke-width="0.75" />
<line x1="255.3" y1="309.796" x2="257.3" y2="309.796" stroke="#3a3a3a" stroke-width="0.75" />
<line x1="254.10000000000002" y1="306.52" x2="257.3" y2="306.52" stroke="#3a3a3a" stroke-width="0.75" />
<line x1="255.3" y1="303.24399999999997" x2="257.3" y2="303.24399999999997" stroke="#3a3a3a" stroke-width="0.75" />
<line x1="255.3" y1="299.96799999999996" x2="257.3" y2="299.96799999999996" stroke="#3a3a3a" stroke-width="0.75" />
<line x1="255.3" y1="296.692" x2="257.3" y2="296.692" stroke="#3a3a3a" stroke-width="0.75" />
<line x1="255.3" y1="293.416" x2="257.3" y2="293.416" stroke="#3a3a3a" stroke-width="0.75" />
<line x1="254.10000000000002" y1="290.14" x2="257.3" y2="290.14" stroke="#3a3a3a" stroke-width="0.75" />
<line x1="255.3" y1="286.864" x2="257.3" y2="286.864" stroke="#3a3a3a" stroke-width="0.75" />
<line x1="255.3" y1="283.58799999999997" x2="257.3" y2="283.58799999999997" stroke="#3a3a3a" stroke-width="0.75" />
<line x1="255.3" y1="280.312" x2="257.3" y2="280.312" stroke="#3a3a3a" stroke-width="0.75" />
<line x1="255.3" y1="277.036" x2="257.3" y2="277.036" stroke="#3a3a3a" stroke-width="0.75" />
<line x1="254.10000000000002" y1="273.76" x2="257.3" y2="273.76" stroke="#3a3a3a" stroke-width="0.75" />
<line x1="255.3" y1="270.484" x2="257.3" y2="270.484" stroke="#3a3a3a" stroke-width="0.75" />
<line x1="255.3" y1="267.20799999999997" x2="257.3" y2="267.20799999999997" stroke="#3a3a3a" stroke-width="0.75" />
<line x1="255.3" y1="263.932" x2="257.3" y2="263.932" stroke="#3a3a3a" stroke-width="0.75" />
<line x1="255.3" y1="260.656" x2="257.3" y2="260.656" stroke="#3a3a3a" stroke-width="0.75" />
<line x1="254.10000000000002" y1="257.38" x2="257.3" y2="257.38" stroke="#3a3a3a" stroke-width="0.75" />
<line x1="255.3" y1="254.10399999999998" x2="257.3" y2="254.10399999999998" stroke="#3a3a3a" stroke-width="0.75" />
<line x1="255.3" y1="250.828" x2="257.3" y2="250.828" stroke="#3a3a3a" stroke-width="0.75" />
<line x1="255.3" y1="247.55200000000002" x2="257.3" y2="247.55200000000002" stroke="#3a3a3a" stroke-width="0.75" />
<line x1="255.3" y1="244.276" x2="257.3" y2="244.276" stroke="#3a3a3a" stroke-width="0.75" />
<line x1="254.10000000000002" y1="241.0" x2="257.3" y2="241.0" stroke="#3a3a3a" stroke-width="0.75" />
<line x1="256.3" y1="322.9" x2="357.7" y2="322.9" stroke="#2a2a2a" stroke-width="1" />
<line x1="261.8" y1="322.9" x2="261.8" y2="325.7" stroke="#222" stroke-width="0.85" />
<line x1="267.1" y1="322.9" x2="267.1" y2="325.7" stroke="#222" stroke-width="0.85" />
<line x1="272.90000000000003" y1="322.9" x2="272.90000000000003" y2="326.9" stroke="#222" stroke-width="1.5" />
<line x1="278.3" y1="322.9" x2="278.3" y2="325.7" stroke="#222" stroke-width="0.85" />
<line x1="257.3" y1="322.9" x2="257.3" y2="326.9" stroke="#222" stroke-width="1.0" />
<line x1="280.90000000000003" y1="322.9" x2="280.90000000000003" y2="327.09999999999997" stroke="#222" stroke-width="1.0" />
<line x1="288.00430789767" y1="322.9" x2="288.00430789767" y2="325.7" stroke="#333" stroke-width="0.8" />
<line x1="292.1600616113841" y1="322.9" x2="292.1600616113841" y2="325.7" stroke="#333" stroke-width="0.8" />
<line x1="295.10861579534" y1="322.9" x2="295.10861579534" y2="325.7" stroke="#333" stroke-width="0.8" />
<line x1="297.3956921023301" y1="322.9" x2="297.3956921023301" y2="325.7" stroke="#333" stroke-width="0.8" />
<line x1="299.264369509054" y1="322.9" x2="299.264369509054" y2="325.7" stroke="#333" stroke-width="0.8" />
<line x1="300.8443137443365" y1="322.9" x2="300.8443137443365" y2="325.7" stroke="#333" stroke-width="0.8" />
<line x1="302.2129236930099" y1="322.9" x2="302.2129236930099" y2="325.7" stroke="#333" stroke-width="0.8" />
<line x1="303.4201232227681" y1="322.9" x2="303.4201232227681" y2="325.7" stroke="#333" stroke-width="0.8" />
<line x1="304.5" y1="322.9" x2="304.5" y2="327.09999999999997" stroke="#222" stroke-width="1.0" />
<line x1="311.60430789766997" y1="322.9" x2="311.60430789766997" y2="325.7" stroke="#333" stroke-width="0.8" />
<line x1="315.76006161138406" y1="322.9" x2="315.76006161138406" y2="325.7" stroke="#333" stroke-width="0.8" />
<line x1="318.70861579533994" y1="322.9" x2="318.70861579533994" y2="325.7" stroke="#333" stroke-width="0.8" />
<line x1="320.99569210233005" y1="322.9" x2="320.99569210233005" y2="325.7" stroke="#333" stroke-width="0.8" />
<line x1="322.864369509054" y1="322.9" x2="322.864369509054" y2="325.7" stroke="#333" stroke-width="0.8" />
<line x1="324.44431374433645" y1="322.9" x2="324.44431374433645" y2="325.7" stroke="#333" stroke-width="0.8" />
<line x1="325.81292369300985" y1="322.9" x2="325.81292369300985" y2="325.7" stroke="#333" stroke-width="0.8" />
<line x1="327.02012322276806" y1="322.9" x2="327.02012322276806" y2="325.7" stroke="#333" stroke-width="0.8" />
<line x1="328.1" y1="322.9" x2="328.1" y2="327.09999999999997" stroke="#222" stroke-width="1.0" />
<line x1="335.20430789767" y1="322.9" x2="335.20430789767" y2="325.7" stroke="#333" stroke-width="0.8" />
<line x1="339.3600616113841" y1="322.9" x2="339.3600616113841" y2="325.7" stroke="#333" stroke-width="0.8" />
<line x1="342.30861579533996" y1="322.9" x2="342.30861579533996" y2="325.7" stroke="#333" stroke-width="0.8" />
<line x1="344.5956921023301" y1="322.9" x2="344.5956921023301" y2="325.7" stroke="#333" stroke-width="0.8" />
<line x1="346.464369509054" y1="322.9" x2="346.464369509054" y2="325.7" stroke="#333" stroke-width="0.8" />
<line x1="348.0443137443365" y1="322.9" x2="348.0443137443365" y2="325.7" stroke="#333" stroke-width="0.8" />
<line x1="349.4129236930099" y1="322.9" x2="349.4129236930099" y2="325.7" stroke="#333" stroke-width="0.8" />
<line x1="350.6201232227681" y1="322.9" x2="350.6201232227681" y2="325.7" stroke="#333" stroke-width="0.8" />
<line x1="351.70000000000005" y1="322.9" x2="351.70000000000005" y2="327.09999999999997" stroke="#222" stroke-width="1.0" />
<path d="M384.6,322.3 L387.7,318.5 L390.1,313.8 L392.4,306.1 L394.7,298.3 L396.7,290.6 L398.3,282.9 L399.8,275.1 L401.2,270.0 L402.7,261.1 L403.8,256.5 L405.0,252.6 L406.2,251.8 L406.9,247.2 L407.5,242.2 L408.5,244.2 L409.6,242.6 L410.8,244.2 L411.5,241.5 L412.3,244.9 L413.3,242.2 L414.2,245.3 L415.4,244.9 L416.7,244.2 L417.7,246.5 L418.5,249.5 L419.2,251.8 L420.0,253.4 L420.8,256.5 L421.5,258.4 L422.3,261.1 L422.8,264.9 L423.5,270.0 L424.1,270.5 L425.2,275.1 L426.4,281.3 L428.0,289.1 L429.5,298.3 L431.1,306.1 L433.4,312.3 L435.7,315.4 L438.0,317.7 L440.3,320.0 L442.7,322.3 L448.0,322.3 Z" fill="#585858" stroke="#1e1e1e" stroke-width="0.8" stroke-linejoin="round"/>
<line x1="379.9" y1="241.0" x2="379.9" y2="322.9" stroke="#2a2a2a" stroke-width="1" />
<line x1="376.7" y1="322.9" x2="379.9" y2="322.9" stroke="#3a3a3a" stroke-width="0.75" />
<line x1="377.9" y1="319.62399999999997" x2="379.9" y2="319.62399999999997" stroke="#3a3a3a" stroke-width="0.75" />
<line x1="377.9" y1="316.34799999999996" x2="379.9" y2="316.34799999999996" stroke="#3a3a3a" stroke-width="0.75" />
<line x1="377.9" y1="313.072" x2="379.9" y2="313.072" stroke="#3a3a3a" stroke-width="0.75" />
<line x1="377.9" y1="309.796" x2="379.9" y2="309.796" stroke="#3a3a3a" stroke-width="0.75" />
<line x1="376.7" y1="306.52" x2="379.9" y2="306.52" stroke="#3a3a3a" stroke-width="0.75" />
<line x1="377.9" y1="303.24399999999997" x2="379.9" y2="303.24399999999997" stroke="#3a3a3a" stroke-width="0.75" />
<line x1="377.9" y1="299.96799999999996" x2="379.9" y2="299.96799999999996" stroke="#3a3a3a" stroke-width="0.75" />
<line x1="377.9" y1="296.692" x2="379.9" y2="296.692" stroke="#3a3a3a" stroke-width="0.75" />
<line x1="377.9" y1="293.416" x2="379.9" y2="293.416" stroke="#3a3a3a" stroke-width="0.75" />
<line x1="376.7" y1="290.14" x2="379.9" y2="290.14" stroke="#3a3a3a" stroke-width="0.75" />
<line x1="377.9" y1="286.864" x2="379.9" y2="286.864" stroke="#3a3a3a" stroke-width="0.75" />
<line x1="377.9" y1="283.58799999999997" x2="379.9" y2="283.58799999999997" stroke="#3a3a3a" stroke-width="0.75" />
<line x1="377.9" y1="280.312" x2="379.9" y2="280.312" stroke="#3a3a3a" stroke-width="0.75" />
<line x1="377.9" y1="277.036" x2="379.9" y2="277.036" stroke="#3a3a3a" stroke-width="0.75" />
<line x1="376.7" y1="273.76" x2="379.9" y2="273.76" stroke="#3a3a3a" stroke-width="0.75" />
<line x1="377.9" y1="270.484" x2="379.9" y2="270.484" stroke="#3a3a3a" stroke-width="0.75" />
<line x1="377.9" y1="267.20799999999997" x2="379.9" y2="267.20799999999997" stroke="#3a3a3a" stroke-width="0.75" />
<line x1="377.9" y1="263.932" x2="379.9" y2="263.932" stroke="#3a3a3a" stroke-width="0.75" />
<line x1="377.9" y1="260.656" x2="379.9" y2="260.656" stroke="#3a3a3a" stroke-width="0.75" />
<line x1="376.7" y1="257.38" x2="379.9" y2="257.38" stroke="#3a3a3a" stroke-width="0.75" />
<line x1="377.9" y1="254.10399999999998" x2="379.9" y2="254.10399999999998" stroke="#3a3a3a" stroke-width="0.75" />
<line x1="377.9" y1="250.828" x2="379.9" y2="250.828" stroke="#3a3a3a" stroke-width="0.75" />
<line x1="377.9" y1="247.55200000000002" x2="379.9" y2="247.55200000000002" stroke="#3a3a3a" stroke-width="0.75" />
<line x1="377.9" y1="244.276" x2="379.9" y2="244.276" stroke="#3a3a3a" stroke-width="0.75" />
<line x1="376.7" y1="241.0" x2="379.9" y2="241.0" stroke="#3a3a3a" stroke-width="0.75" />
<line x1="378.9" y1="322.9" x2="484.6" y2="322.9" stroke="#2a2a2a" stroke-width="1" />
<line x1="384.4" y1="322.9" x2="384.4" y2="325.7" stroke="#222" stroke-width="0.85" />
<line x1="389.7" y1="322.9" x2="389.7" y2="325.7" stroke="#222" stroke-width="0.85" />
<line x1="395.5" y1="322.9" x2="395.5" y2="326.9" stroke="#222" stroke-width="1.5" />
<line x1="400.9" y1="322.9" x2="400.9" y2="325.7" stroke="#222" stroke-width="0.85" />
<line x1="379.9" y1="322.9" x2="379.9" y2="326.9" stroke="#222" stroke-width="1.0" />
<line x1="403.5" y1="322.9" x2="403.5" y2="327.09999999999997" stroke="#222" stroke-width="1.0" />
<line x1="410.60430789766997" y1="322.9" x2="410.60430789766997" y2="325.7" stroke="#333" stroke-width="0.8" />
<line x1="414.76006161138406" y1="322.9" x2="414.76006161138406" y2="325.7" stroke="#333" stroke-width="0.8" />
<line x1="417.70861579533994" y1="322.9" x2="417.70861579533994" y2="325.7" stroke="#333" stroke-width="0.8" />
<line x1="419.99569210233005" y1="322.9" x2="419.99569210233005" y2="325.7" stroke="#333" stroke-width="0.8" />
<line x1="421.864369509054" y1="322.9" x2="421.864369509054" y2="325.7" stroke="#333" stroke-width="0.8" />
<line x1="423.44431374433645" y1="322.9" x2="423.44431374433645" y2="325.7" stroke="#333" stroke-width="0.8" />
<line x1="424.81292369300985" y1="322.9" x2="424.81292369300985" y2="325.7" stroke="#333" stroke-width="0.8" />
<line x1="426.02012322276806" y1="322.9" x2="426.02012322276806" y2="325.7" stroke="#333" stroke-width="0.8" />
<line x1="427.09999999999997" y1="322.9" x2="427.09999999999997" y2="327.09999999999997" stroke="#222" stroke-width="1.0" />
<line x1="434.20430789766993" y1="322.9" x2="434.20430789766993" y2="325.7" stroke="#333" stroke-width="0.8" />
<line x1="438.360061611384" y1="322.9" x2="438.360061611384" y2="325.7" stroke="#333" stroke-width="0.8" />
<line x1="441.3086157953399" y1="322.9" x2="441.3086157953399" y2="325.7" stroke="#333" stroke-width="0.8" />
<line x1="443.59569210233" y1="322.9" x2="443.59569210233" y2="325.7" stroke="#333" stroke-width="0.8" />
<line x1="445.46436950905394" y1="322.9" x2="445.46436950905394" y2="325.7" stroke="#333" stroke-width="0.8" />
<line x1="447.0443137443364" y1="322.9" x2="447.0443137443364" y2="325.7" stroke="#333" stroke-width="0.8" />
<line x1="448.4129236930098" y1="322.9" x2="448.4129236930098" y2="325.7" stroke="#333" stroke-width="0.8" />
<line x1="449.62012322276803" y1="322.9" x2="449.62012322276803" y2="325.7" stroke="#333" stroke-width="0.8" />
<line x1="450.7" y1="322.9" x2="450.7" y2="327.09999999999997" stroke="#222" stroke-width="1.0" />
<line x1="457.80430789766996" y1="322.9" x2="457.80430789766996" y2="325.7" stroke="#333" stroke-width="0.8" />
<line x1="461.96006161138405" y1="322.9" x2="461.96006161138405" y2="325.7" stroke="#333" stroke-width="0.8" />
<line x1="464.9086157953399" y1="322.9" x2="464.9086157953399" y2="325.7" stroke="#333" stroke-width="0.8" />
<line x1="467.19569210233004" y1="322.9" x2="467.19569210233004" y2="325.7" stroke="#333" stroke-width="0.8" />
<line x1="469.06436950905396" y1="322.9" x2="469.06436950905396" y2="325.7" stroke="#333" stroke-width="0.8" />
<line x1="470.64431374433644" y1="322.9" x2="470.64431374433644" y2="325.7" stroke="#333" stroke-width="0.8" />
<line x1="472.01292369300984" y1="322.9" x2="472.01292369300984" y2="325.7" stroke="#333" stroke-width="0.8" />
<line x1="473.22012322276805" y1="322.9" x2="473.22012322276805" y2="325.7" stroke="#333" stroke-width="0.8" />
<line x1="474.29999999999995" y1="322.9" x2="474.29999999999995" y2="327.09999999999997" stroke="#222" stroke-width="1.0" />
<text x="0" y="0" font-size="10.6" text-anchor="middle" font-weight="bold" font-family='"Liberation Serif", serif' fill="#111" transform="translate(57.9,223.8) scale(1,1.08)" >MPA-DC</text>
<text x="0" y="0" font-size="10.6" text-anchor="start" font-weight="bold" font-family='"Liberation Serif", serif' fill="#111" transform="translate(151,223.7) scale(1,1.08)" >MPA-DC</text>
<text x="0" y="0" font-size="6.6" text-anchor="start" font-weight="bold" font-family='"Liberation Serif", serif' fill="#111" transform="translate(195.2,225.6) scale(1,1.08)" >[IFN-γ]</text>
<text x="0" y="0" font-size="10.6" text-anchor="middle" font-weight="bold" font-family='"Liberation Serif", serif' fill="#111" transform="translate(303.1,224.2) scale(1,1.08)" >mDC</text>
<text x="0" y="0" font-size="10.6" text-anchor="start" font-weight="bold" font-family='"Liberation Serif", serif' fill="#111" transform="translate(394.6,224.8) scale(1,1.08)" >mDC</text>
<text x="0" y="0" font-size="7.0" text-anchor="start" font-weight="bold" font-family='"Liberation Serif", serif' fill="#111" transform="translate(421.5,227) scale(1,1.08)" >[anti IFN-γ]</text>
<line x1="56.0" y1="262.7" x2="56.0" y2="273.7" stroke="#000" stroke-width="1.1" stroke-opacity="0.5"/>
<line x1="56.0" y1="267.5" x2="103.8" y2="267.5" stroke="#000" stroke-width="1.1" stroke-opacity="0.5"/>
<text x="0" y="0" font-size="9.9" text-anchor="start" font-weight="bold" font-family='"Liberation Serif", serif' fill="#111" transform="translate(69.8,262) scale(1,1.08)" >9.0%</text>
<line x1="174.9" y1="263.0" x2="174.9" y2="273.7" stroke="#000" stroke-width="1.1" stroke-opacity="0.5"/>
<line x1="174.9" y1="267.5" x2="223.1" y2="267.5" stroke="#000" stroke-width="1.1" stroke-opacity="0.5"/>
<text x="0" y="0" font-size="9.9" text-anchor="start" font-weight="bold" font-family='"Liberation Serif", serif' fill="#111" transform="translate(186.8,262.4) scale(1,1.08)" >24.4%</text>
<line x1="293" y1="263.3" x2="293" y2="274" stroke="#000" stroke-width="1.1" stroke-opacity="0.5"/>
<line x1="293" y1="269.2" x2="341.5" y2="269.2" stroke="#000" stroke-width="1.1" stroke-opacity="0.5"/>
<text x="0" y="0" font-size="9.9" text-anchor="start" font-weight="bold" font-family='"Liberation Serif", serif' fill="#111" transform="translate(310.6,263.9) scale(1,1.08)" >55.1%</text>
<line x1="415.6" y1="264.2" x2="415.6" y2="274.8" stroke="#000" stroke-width="1.1" stroke-opacity="0.5"/>
<line x1="415.6" y1="269.1" x2="464.8" y2="269.1" stroke="#000" stroke-width="1.1" stroke-opacity="0.5"/>
<text x="0" y="0" font-size="9.9" text-anchor="start" font-weight="bold" font-family='"Liberation Serif", serif' fill="#111" transform="translate(429.9,263.9) scale(1,1.08)" >35.2%</text>
<line x1="9.4" y1="336.1" x2="487.8" y2="336.1" stroke="#1a1a1a" stroke-width="1.4" />
<path d="M483.6,332.8 L488.4,336.1 L483.6,339.4" fill="none" stroke="#1a1a1a" stroke-width="1.2" />
<text x="0" y="0" font-size="10.6" text-anchor="start" font-weight="bold" font-family='"Liberation Serif", serif' fill="#111" transform="translate(223.3,355) scale(1,1.08)" >CD107-PE</text>
<text x="0" y="0" font-size="13.4" text-anchor="start" font-weight="bold" font-family='"Liberation Sans", sans-serif' fill="#000" transform="translate(0.1,392.8) scale(1,1.03)">D</text>
<text x="0" y="0" font-size="9.2" font-family='"Liberation Serif", serif' fill="#2a2a2a" transform="translate(5.3,405.6) scale(1,1.12)">71%</text>
<line x1="25" y1="402" x2="67.5" y2="402" stroke="#4e4e4e" stroke-width="1.1" />
<line x1="67.5" y1="397.7" x2="67.5" y2="406.5" stroke="#444" stroke-width="1.1" />
<text x="0" y="0" font-size="9.3" text-anchor="start" font-weight="bold" font-family='"Liberation Serif", serif' fill="#111" transform="translate(72.8,405.5) scale(1,1.08)" >mDC</text>
<text x="0" y="0" font-size="9.2" font-family='"Liberation Serif", serif' fill="#666" transform="translate(5.3,422.6) scale(1,1.12)">29%</text>
<line x1="25" y1="418.8" x2="67.5" y2="418.8" stroke="#8c8c8c" stroke-width="1.1" />
<line x1="67.5" y1="414.5" x2="67.5" y2="423.3" stroke="#7a7a7a" stroke-width="1.1" />
<text x="0" y="0" font-size="9.3" text-anchor="start" font-weight="bold" font-family='"Liberation Serif", serif' fill="#111" transform="translate(72.3,422.5) scale(1,1.08)" >MPA-DC</text>
<text x="0" y="0" font-size="9.2" font-family='"Liberation Serif", serif' fill="#2a2a2a" transform="translate(114.2,405.8) scale(1,1.12)">70%</text>
<line x1="133.2" y1="401.3" x2="176.4" y2="401.3" stroke="#4e4e4e" stroke-width="1.1" />
<line x1="176.4" y1="397.0" x2="176.4" y2="405.8" stroke="#444" stroke-width="1.1" />
<text x="0" y="0" font-size="8.9" text-anchor="start" font-weight="bold" font-family='"Liberation Serif", serif' fill="#111" transform="translate(183.4,405.7) scale(1,1.08)" >mDC</text>
<text x="0" y="0" font-size="6.2" text-anchor="start" font-weight="bold" font-family='"Liberation Serif", serif' fill="#111" transform="translate(206.5,407.2) scale(1,1.08)" >[IFN-γ]</text>
<text x="0" y="0" font-size="9.2" font-family='"Liberation Serif", serif' fill="#666" transform="translate(114.2,422.1) scale(1,1.12)">55%</text>
<line x1="133.2" y1="417.7" x2="176.4" y2="417.7" stroke="#8c8c8c" stroke-width="1.1" />
<line x1="176.4" y1="413.4" x2="176.4" y2="422.2" stroke="#7a7a7a" stroke-width="1.1" />
<text x="0" y="0" font-size="8.8" text-anchor="start" font-weight="bold" font-family='"Liberation Serif", serif' fill="#111" transform="translate(183.4,422.0) scale(1,1.08)" >MPA-DC</text>
<text x="0" y="0" font-size="6.2" text-anchor="start" font-weight="bold" font-family='"Liberation Serif", serif' fill="#111" transform="translate(220.6,423.5) scale(1,1.08)" >[IFN-γ]</text>
<path d="M29.3,519.0 L29.3,518.6 L33.0,516.8 L36.2,515.1 L38.6,513.5 L40.6,511.6 L42.2,509.8 L43.2,508.3 L44.5,506.9 L45.8,506.3 L47.1,506.9 L48.1,507.9 L48.8,509.0 L50.0,510.9 L51.0,512.4 L53.5,515.0 L57.9,517.0 L62.2,518.0 L66.0,518.2 L69.0,517.6 L70.3,517.2 L71.1,507.1 L72.6,496.5 L73.4,473.8 L74.1,454.2 L75.3,445.0 L76.4,440.5 L77.3,444.0 L77.9,451.1 L78.7,466.3 L80.2,481.4 L82.4,499.6 L84.7,511.7 L87.0,517.7 L88.0,518.6 L88.0,519.0 Z" fill="#bcbcbc" stroke="#7a7a7a" stroke-width="0.9" />
<path d="M17.9,518.1 L22.7,517.3 L25.0,514.1 L26.6,509.4 L28.2,501.5 L29.8,493.5 L30.9,485.6 L32.2,480.9 L32.9,473.0 L33.7,466.6 L34.5,457.2 L35.3,449.2 L36.6,444.5 L37.7,442.9 L38.8,440.5 L40.1,444.5 L41.3,450.8 L42.4,458.7 L43.5,466.6 L44.8,476.1 L45.6,485.0 L46.2,493.5 L48.4,503.0 L50.1,508.2 L52.7,511.6 L56.1,514.2 L61.3,516.0 L66.0,516.3 L69.6,515.5 L71.8,511.7 L72.9,499.6 L74.1,486.0 L75.6,475.4 L76.5,470.0 L77.1,467.8 L77.8,469.5 L78.7,473.8 L80.2,486.0 L81.7,498.1 L83.2,507.1 L85.5,515.5 L90.8,517.7 L100.9,518.1" fill="none" stroke="#000" stroke-width="1.6" stroke-linejoin="round" stroke-linecap="round"/>
<line x1="16.6" y1="439.7" x2="16.6" y2="519.6" stroke="#111" stroke-width="1.3" />
<line x1="11.600000000000001" y1="519.6" x2="16.6" y2="519.6" stroke="#1a1a1a" stroke-width="1.0" />
<line x1="13.400000000000002" y1="516.404" x2="16.6" y2="516.404" stroke="#1a1a1a" stroke-width="1.0" />
<line x1="13.400000000000002" y1="513.208" x2="16.6" y2="513.208" stroke="#1a1a1a" stroke-width="1.0" />
<line x1="13.400000000000002" y1="510.012" x2="16.6" y2="510.012" stroke="#1a1a1a" stroke-width="1.0" />
<line x1="13.400000000000002" y1="506.81600000000003" x2="16.6" y2="506.81600000000003" stroke="#1a1a1a" stroke-width="1.0" />
<line x1="11.600000000000001" y1="503.62" x2="16.6" y2="503.62" stroke="#1a1a1a" stroke-width="1.0" />
<line x1="13.400000000000002" y1="500.42400000000004" x2="16.6" y2="500.42400000000004" stroke="#1a1a1a" stroke-width="1.0" />
<line x1="13.400000000000002" y1="497.228" x2="16.6" y2="497.228" stroke="#1a1a1a" stroke-width="1.0" />
<line x1="13.400000000000002" y1="494.03200000000004" x2="16.6" y2="494.03200000000004" stroke="#1a1a1a" stroke-width="1.0" />
<line x1="13.400000000000002" y1="490.836" x2="16.6" y2="490.836" stroke="#1a1a1a" stroke-width="1.0" />
<line x1="11.600000000000001" y1="487.64" x2="16.6" y2="487.64" stroke="#1a1a1a" stroke-width="1.0" />
<line x1="13.400000000000002" y1="484.444" x2="16.6" y2="484.444" stroke="#1a1a1a" stroke-width="1.0" />
<line x1="13.400000000000002" y1="481.248" x2="16.6" y2="481.248" stroke="#1a1a1a" stroke-width="1.0" />
<line x1="13.400000000000002" y1="478.052" x2="16.6" y2="478.052" stroke="#1a1a1a" stroke-width="1.0" />
<line x1="13.400000000000002" y1="474.856" x2="16.6" y2="474.856" stroke="#1a1a1a" stroke-width="1.0" />
<line x1="11.600000000000001" y1="471.66" x2="16.6" y2="471.66" stroke="#1a1a1a" stroke-width="1.0" />
<line x1="13.400000000000002" y1="468.464" x2="16.6" y2="468.464" stroke="#1a1a1a" stroke-width="1.0" />
<line x1="13.400000000000002" y1="465.26800000000003" x2="16.6" y2="465.26800000000003" stroke="#1a1a1a" stroke-width="1.0" />
<line x1="13.400000000000002" y1="462.072" x2="16.6" y2="462.072" stroke="#1a1a1a" stroke-width="1.0" />
<line x1="13.400000000000002" y1="458.876" x2="16.6" y2="458.876" stroke="#1a1a1a" stroke-width="1.0" />
<line x1="11.600000000000001" y1="455.68" x2="16.6" y2="455.68" stroke="#1a1a1a" stroke-width="1.0" />
<line x1="13.400000000000002" y1="452.484" x2="16.6" y2="452.484" stroke="#1a1a1a" stroke-width="1.0" />
<line x1="13.400000000000002" y1="449.288" x2="16.6" y2="449.288" stroke="#1a1a1a" stroke-width="1.0" />
<line x1="13.400000000000002" y1="446.092" x2="16.6" y2="446.092" stroke="#1a1a1a" stroke-width="1.0" />
<line x1="13.400000000000002" y1="442.89599999999996" x2="16.6" y2="442.89599999999996" stroke="#1a1a1a" stroke-width="1.0" />
<line x1="11.600000000000001" y1="439.7" x2="16.6" y2="439.7" stroke="#1a1a1a" stroke-width="1.0" />
<line x1="11.600000000000001" y1="519.6" x2="100.9" y2="519.6" stroke="#111" stroke-width="1.8" />
<line x1="16.6" y1="519.6" x2="16.6" y2="525.2" stroke="#1a1a1a" stroke-width="1.2" />
<line x1="22.6" y1="519.6" x2="22.6" y2="525.2" stroke="#1a1a1a" stroke-width="1.2" />
<line x1="28.1" y1="519.6" x2="28.1" y2="525.2" stroke="#1a1a1a" stroke-width="1.2" />
<line x1="34.1" y1="519.6" x2="34.1" y2="525.2" stroke="#1a1a1a" stroke-width="1.2" />
<line x1="42.9" y1="519.6" x2="42.9" y2="523.2" stroke="#1a1a1a" stroke-width="0.9" />
<line x1="46.1" y1="519.6" x2="46.1" y2="523.2" stroke="#1a1a1a" stroke-width="0.9" />
<line x1="48.0" y1="519.6" x2="48.0" y2="523.2" stroke="#1a1a1a" stroke-width="0.9" />
<line x1="49.4" y1="519.6" x2="49.4" y2="523.2" stroke="#1a1a1a" stroke-width="0.9" />
<line x1="51.7" y1="519.6" x2="51.7" y2="525.2" stroke="#1a1a1a" stroke-width="1.2" />
<line x1="53.7" y1="519.6" x2="53.7" y2="523.2" stroke="#1a1a1a" stroke-width="0.9" />
<line x1="55.6" y1="519.6" x2="55.6" y2="523.2" stroke="#1a1a1a" stroke-width="0.9" />
<line x1="57.4" y1="519.6" x2="57.4" y2="523.2" stroke="#1a1a1a" stroke-width="0.9" />
<line x1="59.3" y1="519.6" x2="59.3" y2="523.2" stroke="#1a1a1a" stroke-width="0.9" />
<line x1="62.2" y1="519.6" x2="62.2" y2="523.2" stroke="#1a1a1a" stroke-width="0.9" />
<line x1="64.6" y1="519.6" x2="64.6" y2="523.2" stroke="#1a1a1a" stroke-width="0.9" />
<line x1="67.0" y1="519.6" x2="67.0" y2="523.2" stroke="#1a1a1a" stroke-width="0.9" />
<line x1="68.9" y1="519.6" x2="68.9" y2="523.2" stroke="#1a1a1a" stroke-width="0.9" />
<line x1="72.3" y1="519.6" x2="72.3" y2="525.2" stroke="#1a1a1a" stroke-width="1.2" />
<line x1="75.7" y1="519.6" x2="75.7" y2="523.2" stroke="#1a1a1a" stroke-width="0.9" />
<line x1="78.1" y1="519.6" x2="78.1" y2="523.2" stroke="#1a1a1a" stroke-width="0.9" />
<line x1="80.5" y1="519.6" x2="80.5" y2="523.2" stroke="#1a1a1a" stroke-width="0.9" />
<line x1="83.3" y1="519.6" x2="83.3" y2="523.2" stroke="#1a1a1a" stroke-width="0.9" />
<line x1="85.3" y1="519.6" x2="85.3" y2="523.2" stroke="#1a1a1a" stroke-width="0.9" />
<line x1="88.2" y1="519.6" x2="88.2" y2="523.2" stroke="#1a1a1a" stroke-width="0.9" />
<line x1="91.5" y1="519.6" x2="91.5" y2="523.2" stroke="#1a1a1a" stroke-width="0.9" />
<line x1="93.9" y1="519.6" x2="93.9" y2="523.2" stroke="#1a1a1a" stroke-width="0.9" />
<line x1="96.8" y1="519.6" x2="96.8" y2="525.2" stroke="#1a1a1a" stroke-width="1.2" />
<line x1="99.1" y1="519.6" x2="99.1" y2="523.2" stroke="#1a1a1a" stroke-width="0.9" />
<path d="M133.5,519.0 L133.5,518.8 L136.0,517.1 L138.0,514.5 L140.0,511.1 L141.6,508.0 L143.0,505.1 L145.0,499.1 L146.5,494.1 L148.0,489.1 L149.5,483.0 L151.0,478.0 L152.2,475.6 L153.0,475.0 L153.8,475.8 L154.6,478.0 L156.1,485.0 L157.6,493.0 L159.6,501.1 L162.1,507.1 L165.1,512.1 L170.0,515.1 L173.0,515.6 L176.5,515.5 L179.6,513.2 L181.1,507.1 L182.3,496.6 L182.9,481.4 L183.8,466.3 L184.9,451.1 L185.7,444.0 L186.4,440.2 L187.2,444.0 L187.9,449.6 L189.0,466.3 L190.2,481.4 L191.7,496.6 L194.0,508.7 L197.0,516.2 L199.0,518.6 L199.0,519.0 Z" fill="#bcbcbc" stroke="#7a7a7a" stroke-width="0.9" />
<path d="M128.7,518.5 L133.4,517.3 L135.8,514.1 L137.4,507.8 L139.0,499.9 L140.6,490.4 L142.2,480.9 L143.4,471.4 L144.5,461.9 L145.6,454.0 L146.9,450.8 L148.2,449.2 L149.3,442.9 L150.4,440.5 L151.6,446.1 L152.9,452.4 L154.0,461.9 L155.1,471.4 L156.4,482.5 L157.7,492.0 L159.2,499.9 L161.1,506.2 L163.5,510.2 L166.7,512.5 L172.0,514.7 L175.0,515.6 L178.1,515.5 L181.1,513.2 L182.6,505.6 L183.8,493.5 L184.9,481.4 L185.9,470.8 L186.5,466.5 L187.1,468.5 L187.8,466.0 L188.6,469.0 L189.4,473.8 L190.5,486.0 L191.7,496.6 L193.2,505.6 L195.5,513.2 L199.2,516.2 L205.0,517.7 L210.1,518.1" fill="none" stroke="#000" stroke-width="1.6" stroke-linejoin="round" stroke-linecap="round"/>
<line x1="127.9" y1="439.7" x2="127.9" y2="519.6" stroke="#111" stroke-width="1.3" />
<line x1="122.9" y1="519.6" x2="127.9" y2="519.6" stroke="#1a1a1a" stroke-width="1.0" />
<line x1="124.7" y1="516.404" x2="127.9" y2="516.404" stroke="#1a1a1a" stroke-width="1.0" />
<line x1="124.7" y1="513.208" x2="127.9" y2="513.208" stroke="#1a1a1a" stroke-width="1.0" />
<line x1="124.7" y1="510.012" x2="127.9" y2="510.012" stroke="#1a1a1a" stroke-width="1.0" />
<line x1="124.7" y1="506.81600000000003" x2="127.9" y2="506.81600000000003" stroke="#1a1a1a" stroke-width="1.0" />
<line x1="122.9" y1="503.62" x2="127.9" y2="503.62" stroke="#1a1a1a" stroke-width="1.0" />
<line x1="124.7" y1="500.42400000000004" x2="127.9" y2="500.42400000000004" stroke="#1a1a1a" stroke-width="1.0" />
<line x1="124.7" y1="497.228" x2="127.9" y2="497.228" stroke="#1a1a1a" stroke-width="1.0" />
<line x1="124.7" y1="494.03200000000004" x2="127.9" y2="494.03200000000004" stroke="#1a1a1a" stroke-width="1.0" />
<line x1="124.7" y1="490.836" x2="127.9" y2="490.836" stroke="#1a1a1a" stroke-width="1.0" />
<line x1="122.9" y1="487.64" x2="127.9" y2="487.64" stroke="#1a1a1a" stroke-width="1.0" />
<line x1="124.7" y1="484.444" x2="127.9" y2="484.444" stroke="#1a1a1a" stroke-width="1.0" />
<line x1="124.7" y1="481.248" x2="127.9" y2="481.248" stroke="#1a1a1a" stroke-width="1.0" />
<line x1="124.7" y1="478.052" x2="127.9" y2="478.052" stroke="#1a1a1a" stroke-width="1.0" />
<line x1="124.7" y1="474.856" x2="127.9" y2="474.856" stroke="#1a1a1a" stroke-width="1.0" />
<line x1="122.9" y1="471.66" x2="127.9" y2="471.66" stroke="#1a1a1a" stroke-width="1.0" />
<line x1="124.7" y1="468.464" x2="127.9" y2="468.464" stroke="#1a1a1a" stroke-width="1.0" />
<line x1="124.7" y1="465.26800000000003" x2="127.9" y2="465.26800000000003" stroke="#1a1a1a" stroke-width="1.0" />
<line x1="124.7" y1="462.072" x2="127.9" y2="462.072" stroke="#1a1a1a" stroke-width="1.0" />
<line x1="124.7" y1="458.876" x2="127.9" y2="458.876" stroke="#1a1a1a" stroke-width="1.0" />
<line x1="122.9" y1="455.68" x2="127.9" y2="455.68" stroke="#1a1a1a" stroke-width="1.0" />
<line x1="124.7" y1="452.484" x2="127.9" y2="452.484" stroke="#1a1a1a" stroke-width="1.0" />
<line x1="124.7" y1="449.288" x2="127.9" y2="449.288" stroke="#1a1a1a" stroke-width="1.0" />
<line x1="124.7" y1="446.092" x2="127.9" y2="446.092" stroke="#1a1a1a" stroke-width="1.0" />
<line x1="124.7" y1="442.89599999999996" x2="127.9" y2="442.89599999999996" stroke="#1a1a1a" stroke-width="1.0" />
<line x1="122.9" y1="439.7" x2="127.9" y2="439.7" stroke="#1a1a1a" stroke-width="1.0" />
<line x1="122.9" y1="519.6" x2="210.1" y2="519.6" stroke="#111" stroke-width="1.8" />
<line x1="127.9" y1="519.6" x2="127.9" y2="525.2" stroke="#1a1a1a" stroke-width="1.2" />
<line x1="133.9" y1="519.6" x2="133.9" y2="525.2" stroke="#1a1a1a" stroke-width="1.2" />
<line x1="139.4" y1="519.6" x2="139.4" y2="525.2" stroke="#1a1a1a" stroke-width="1.2" />
<line x1="145.4" y1="519.6" x2="145.4" y2="525.2" stroke="#1a1a1a" stroke-width="1.2" />
<line x1="154.20000000000002" y1="519.6" x2="154.20000000000002" y2="523.2" stroke="#1a1a1a" stroke-width="0.9" />
<line x1="157.4" y1="519.6" x2="157.4" y2="523.2" stroke="#1a1a1a" stroke-width="0.9" />
<line x1="159.3" y1="519.6" x2="159.3" y2="523.2" stroke="#1a1a1a" stroke-width="0.9" />
<line x1="160.70000000000002" y1="519.6" x2="160.70000000000002" y2="523.2" stroke="#1a1a1a" stroke-width="0.9" />
<line x1="163.0" y1="519.6" x2="163.0" y2="525.2" stroke="#1a1a1a" stroke-width="1.2" />
<line x1="165.0" y1="519.6" x2="165.0" y2="523.2" stroke="#1a1a1a" stroke-width="0.9" />
<line x1="166.9" y1="519.6" x2="166.9" y2="523.2" stroke="#1a1a1a" stroke-width="0.9" />
<line x1="168.70000000000002" y1="519.6" x2="168.70000000000002" y2="523.2" stroke="#1a1a1a" stroke-width="0.9" />
<line x1="170.60000000000002" y1="519.6" x2="170.60000000000002" y2="523.2" stroke="#1a1a1a" stroke-width="0.9" />
<line x1="173.5" y1="519.6" x2="173.5" y2="523.2" stroke="#1a1a1a" stroke-width="0.9" />
<line x1="175.9" y1="519.6" x2="175.9" y2="523.2" stroke="#1a1a1a" stroke-width="0.9" />
<line x1="178.3" y1="519.6" x2="178.3" y2="523.2" stroke="#1a1a1a" stroke-width="0.9" />
<line x1="180.20000000000002" y1="519.6" x2="180.20000000000002" y2="523.2" stroke="#1a1a1a" stroke-width="0.9" />
<line x1="183.60000000000002" y1="519.6" x2="183.60000000000002" y2="525.2" stroke="#1a1a1a" stroke-width="1.2" />
<line x1="187.0" y1="519.6" x2="187.0" y2="523.2" stroke="#1a1a1a" stroke-width="0.9" />
<line x1="189.4" y1="519.6" x2="189.4" y2="523.2" stroke="#1a1a1a" stroke-width="0.9" />
<line x1="191.8" y1="519.6" x2="191.8" y2="523.2" stroke="#1a1a1a" stroke-width="0.9" />
<line x1="194.60000000000002" y1="519.6" x2="194.60000000000002" y2="523.2" stroke="#1a1a1a" stroke-width="0.9" />
<line x1="196.60000000000002" y1="519.6" x2="196.60000000000002" y2="523.2" stroke="#1a1a1a" stroke-width="0.9" />
<line x1="199.5" y1="519.6" x2="199.5" y2="523.2" stroke="#1a1a1a" stroke-width="0.9" />
<line x1="202.8" y1="519.6" x2="202.8" y2="523.2" stroke="#1a1a1a" stroke-width="0.9" />
<line x1="205.20000000000002" y1="519.6" x2="205.20000000000002" y2="523.2" stroke="#1a1a1a" stroke-width="0.9" />
<line x1="208.10000000000002" y1="519.6" x2="208.10000000000002" y2="525.2" stroke="#1a1a1a" stroke-width="1.2" />
<line x1="210.4" y1="519.6" x2="210.4" y2="523.2" stroke="#1a1a1a" stroke-width="0.9" />
<line x1="5.5" y1="529.2" x2="221.2" y2="529.2" stroke="#1a1a1a" stroke-width="1.4" />
<path d="M216.4,526 L221.8,529.2 L216.4,532.4" fill="none" stroke="#1a1a1a" stroke-width="1.2" />
<text x="0" y="0" font-size="11.0" text-anchor="start" font-weight="bold" font-family='"Liberation Serif", serif' fill="#111" transform="translate(98.4,546.3) scale(1,1.28)">CFSE</text>
<text x="0" y="0" font-size="12.8" text-anchor="start" font-weight="bold" font-family='"Liberation Sans", sans-serif' fill="#000" transform="translate(265.0,393.8) scale(1,1.12)">E</text>
<line x1="306.4" y1="385.5" x2="306.4" y2="530.8" stroke="#8a8a8a" stroke-width="1" />
<line x1="304.9" y1="530.8" x2="456.7" y2="530.8" stroke="#777" stroke-width="1.2" />
<line x1="304.2" y1="387.0" x2="306.4" y2="387.0" stroke="#8a8a8a" stroke-width="1" />
<text x="0" y="0" font-size="8.4" text-anchor="end" font-weight="normal" font-family='"Liberation Serif", serif' fill="#333" transform="translate(302.59999999999997,390.40000000000003) scale(1,1.1)">30000</text>
<line x1="304.2" y1="410.96666666666664" x2="306.4" y2="410.96666666666664" stroke="#8a8a8a" stroke-width="1" />
<text x="0" y="0" font-size="8.4" text-anchor="end" font-weight="normal" font-family='"Liberation Serif", serif' fill="#333" transform="translate(302.59999999999997,414.7) scale(1,1.1)">25000</text>
<line x1="304.2" y1="434.93333333333334" x2="306.4" y2="434.93333333333334" stroke="#8a8a8a" stroke-width="1" />
<text x="0" y="0" font-size="8.4" text-anchor="end" font-weight="normal" font-family='"Liberation Serif", serif' fill="#333" transform="translate(302.59999999999997,438.8) scale(1,1.1)">20000</text>
<line x1="304.2" y1="458.9" x2="306.4" y2="458.9" stroke="#8a8a8a" stroke-width="1" />
<text x="0" y="0" font-size="8.4" text-anchor="end" font-weight="normal" font-family='"Liberation Serif", serif' fill="#333" transform="translate(302.59999999999997,463.40000000000003) scale(1,1.1)">15000</text>
<line x1="304.2" y1="482.8666666666666" x2="306.4" y2="482.8666666666666" stroke="#8a8a8a" stroke-width="1" />
<text x="0" y="0" font-size="8.4" text-anchor="end" font-weight="normal" font-family='"Liberation Serif", serif' fill="#333" transform="translate(302.59999999999997,487.90000000000003) scale(1,1.1)">10000</text>
<line x1="304.2" y1="506.83333333333326" x2="306.4" y2="506.83333333333326" stroke="#8a8a8a" stroke-width="1" />
<text x="0" y="0" font-size="8.4" text-anchor="end" font-weight="normal" font-family='"Liberation Serif", serif' fill="#333" transform="translate(302.59999999999997,512.1999999999999) scale(1,1.1)">5000</text>
<line x1="304.2" y1="530.8" x2="306.4" y2="530.8" stroke="#8a8a8a" stroke-width="1" />
<text x="0" y="0" font-size="8.4" text-anchor="end" font-weight="normal" font-family='"Liberation Serif", serif' fill="#333" transform="translate(302.59999999999997,534.5999999999999) scale(1,1.1)">0</text>
<text x="0" y="0" font-size="9.9" text-anchor="middle" font-weight="bold" font-family='"Liberation Serif", serif' fill="#111" transform="translate(274.6,454.5) rotate(-90)">Proliferation (cpm)</text>
<line x1="321.55" y1="417.5" x2="321.55" y2="425.3" stroke="#888" stroke-width="1" />
<line x1="317.05" y1="417.5" x2="326.05" y2="417.5" stroke="#888" stroke-width="1" />
<rect x="315.0" y="425.8" width="14.5" height="104.99999999999994" fill="#686868" stroke="#2e2e2e" stroke-width="1"/>
<line x1="345.75" y1="504.5" x2="345.75" y2="512.0" stroke="#888" stroke-width="1" />
<line x1="341.25" y1="504.5" x2="350.25" y2="504.5" stroke="#888" stroke-width="1" />
<rect x="338.5" y="512.5" width="14.5" height="18.299999999999955" fill="#686868" stroke="#2e2e2e" stroke-width="1"/>
<line x1="368.95000000000005" y1="503.8" x2="368.95000000000005" y2="515.5" stroke="#888" stroke-width="1" />
<line x1="364.45000000000005" y1="503.8" x2="373.45000000000005" y2="503.8" stroke="#888" stroke-width="1" />
<rect x="361.8" y="516.0" width="14.300000000000011" height="14.799999999999955" fill="#686868" stroke="#2e2e2e" stroke-width="1"/>
<line x1="392.9" y1="499.3" x2="392.9" y2="507.9" stroke="#888" stroke-width="1" />
<line x1="388.4" y1="499.3" x2="397.4" y2="499.3" stroke="#888" stroke-width="1" />
<rect x="385.5" y="508.4" width="14.800000000000011" height="22.399999999999977" fill="#686868" stroke="#2e2e2e" stroke-width="1"/>
<line x1="416.7" y1="508.7" x2="416.7" y2="520.2" stroke="#888" stroke-width="1" />
<line x1="412.2" y1="508.7" x2="421.2" y2="508.7" stroke="#888" stroke-width="1" />
<rect x="409.5" y="520.7" width="14.399999999999977" height="10.099999999999909" fill="#686868" stroke="#2e2e2e" stroke-width="1"/>
<line x1="440.25" y1="465.6" x2="440.25" y2="476.3" stroke="#888" stroke-width="1" />
<line x1="435.75" y1="465.6" x2="444.75" y2="465.6" stroke="#888" stroke-width="1" />
<rect x="433.0" y="476.8" width="14.5" height="53.99999999999994" fill="#686868" stroke="#2e2e2e" stroke-width="1"/>
<path d="M346.3,453.6 L346.3,445.5 L441.1,445.5 L441.1,453.6" fill="none" stroke="#7a7a7a" stroke-width="1.1" />
<path d="M390.80,435.20 L390.80,432.30 M390.80,435.20 L393.56,434.30 M390.80,435.20 L392.50,437.55 M390.80,435.20 L389.10,437.55 M390.80,435.20 L388.04,434.30 " fill="none" stroke="#1a1a1a" stroke-width="1.55" stroke-linecap="round"/>
<text x="0" y="0" font-size="7.9" text-anchor="end" font-weight="bold" font-family='"Liberation Serif", serif' fill="#111" stroke="#111" stroke-width="0.2" transform="translate(319.4,541.2) scale(1,1.12) rotate(-30)">mDC</text>
<text x="0" y="0" font-size="7.9" text-anchor="end" font-weight="bold" font-family='"Liberation Serif", serif' fill="#111" stroke="#111" stroke-width="0.2" transform="translate(346.0,541.6) scale(1,1.12) rotate(-30)">MPA-DC</text>
<text x="0" y="0" font-size="7.9" text-anchor="end" font-weight="bold" font-family='"Liberation Serif", serif' fill="#111" stroke="#111" stroke-width="0.2" transform="translate(374.2,538.6) scale(1,1.12) rotate(-30)">MPA-DC <tspan font-size="6.2" dy="0.5">[IL-12]</tspan></text>
<text x="0" y="0" font-size="7.9" text-anchor="end" font-weight="bold" font-family='"Liberation Serif", serif' fill="#111" stroke="#111" stroke-width="0.2" transform="translate(397.5,538.8) scale(1,1.12) rotate(-30)">MPA-DC <tspan font-size="6.2" dy="0.5">[TNF-α]</tspan></text>
<text x="0" y="0" font-size="7.9" text-anchor="end" font-weight="bold" font-family='"Liberation Serif", serif' fill="#111" stroke="#111" stroke-width="0.2" transform="translate(419.4,539.8) scale(1,1.12) rotate(-30)">MPA-DC <tspan font-size="6.2" dy="0.5">[IL-2]</tspan></text>
<text x="0" y="0" font-size="7.9" text-anchor="end" font-weight="bold" font-family='"Liberation Serif", serif' fill="#111" stroke="#111" stroke-width="0.2" transform="translate(444.2,539.4) scale(1,1.12) rotate(-30)">MPA-DC <tspan font-size="6.2" dy="0.5">[IFN-γ]</tspan></text>
</svg>
</body></html>
